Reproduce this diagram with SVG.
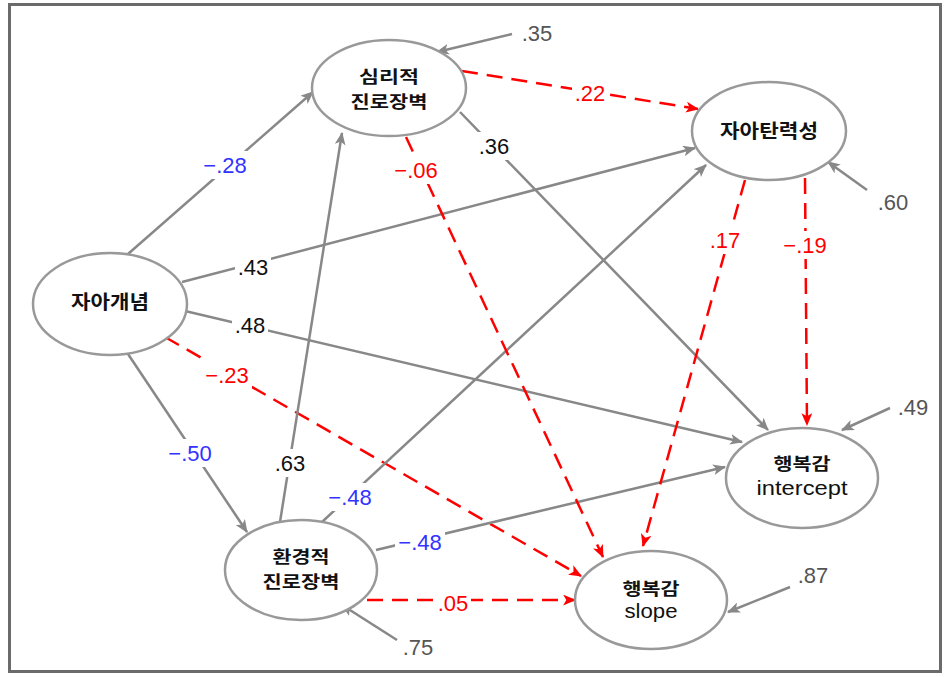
<svg xmlns="http://www.w3.org/2000/svg" width="946" height="677" viewBox="0 0 946 677">
<defs>
<style>
.frame{fill:#fff;stroke:#6b6b6b;stroke-width:3}
.node ellipse{fill:#fff;stroke:#999;stroke-width:2.5}
.nt{font-family:"Noto Sans CJK KR","Liberation Sans",sans-serif;font-size:19px;font-weight:bold;fill:#111;text-anchor:middle}
.n2{font-size:17px}
.et{font-family:"Liberation Sans",Arial,sans-serif;font-size:21px;fill:#111;text-anchor:middle}
.solid{stroke:#888;stroke-width:2.5;fill:none;marker-end:url(#ag)}
.dash{stroke:#f00;stroke-width:2.5;fill:none;stroke-dasharray:16 9;marker-end:url(#ar)}
.lb{font-family:"Liberation Sans",Arial,sans-serif;font-size:22px;text-anchor:middle}
.bg{fill:#fff;stroke:none}
.k{fill:#111}.b{fill:#3333ff}.r{fill:#ff0000}.g{fill:#555}
</style>
<marker id="ag" markerUnits="userSpaceOnUse" viewBox="0 0 12 10" refX="11" refY="5" markerWidth="13" markerHeight="11" orient="auto">
<path d="M0,0 L12,5 L0,10 L3,5 z" fill="#888"/>
</marker>
<marker id="ar" markerUnits="userSpaceOnUse" viewBox="0 0 12 10" refX="11" refY="5" markerWidth="13" markerHeight="11" orient="auto">
<path d="M0,0 L12,5 L0,10 L3,5 z" fill="#f00"/>
</marker>
</defs>
<rect class="frame" x="9.5" y="4.5" width="931" height="667"/>
<g id="connectors">
<line class="solid" x1="128" y1="254" x2="313" y2="92"/>
<line class="solid" x1="182" y1="282" x2="695" y2="148"/>
<line class="solid" x1="185" y1="311" x2="742" y2="442"/>
<line class="solid" x1="126" y1="351" x2="247" y2="532"/>
<line class="dash" x1="165" y1="337" x2="581" y2="576"/>
<line class="solid" x1="280" y1="522" x2="342" y2="133"/>
<line class="solid" x1="322" y1="522" x2="706" y2="165"/>
<line class="solid" x1="376" y1="550" x2="725" y2="467"/>
<line class="dash" x1="367" y1="600" x2="575" y2="600"/>
<line class="dash" x1="462" y1="71" x2="698" y2="109"/>
<line class="solid" x1="460" y1="112" x2="768" y2="430"/>
<line class="dash" x1="406" y1="137" x2="603" y2="557"/>
<line class="dash" x1="745" y1="180" x2="643" y2="546"/>
<line class="dash" x1="805" y1="178" x2="807" y2="425"/>
<line class="solid" x1="512" y1="34" x2="437" y2="52"/>
<line class="solid" x1="867" y1="190" x2="828" y2="162"/>
<line class="solid" x1="890" y1="408" x2="842" y2="430"/>
<line class="solid" x1="790" y1="587" x2="728" y2="612"/>
<line class="solid" x1="397" y1="640" x2="342" y2="605"/>
<rect class="bg" x="200" y="151" width="50" height="28"/>
<rect class="bg" x="235" y="253" width="36" height="28"/>
<rect class="bg" x="232" y="311" width="36" height="28"/>
<rect class="bg" x="202" y="361" width="50" height="28"/>
<rect class="bg" x="165" y="439" width="50" height="28"/>
<rect class="bg" x="272" y="449" width="36" height="28"/>
<rect class="bg" x="325" y="483" width="50" height="28"/>
<rect class="bg" x="395" y="528" width="50" height="28"/>
<rect class="bg" x="435" y="589" width="36" height="28"/>
<rect class="bg" x="572" y="79" width="36" height="28"/>
<rect class="bg" x="476" y="132" width="36" height="28"/>
<rect class="bg" x="391" y="156" width="50" height="28"/>
<rect class="bg" x="708" y="226" width="34" height="28"/>
<rect class="bg" x="780" y="231" width="50" height="28"/>
<text class="lb b" x="225" y="173">−.28</text>
<text class="lb k" x="253" y="275">.43</text>
<text class="lb k" x="250" y="333">.48</text>
<text class="lb r" x="227" y="383">−.23</text>
<text class="lb b" x="190" y="461">−.50</text>
<text class="lb k" x="290" y="471">.63</text>
<text class="lb b" x="350" y="505">−.48</text>
<text class="lb b" x="420" y="550">−.48</text>
<text class="lb r" x="453" y="611">.05</text>
<text class="lb r" x="590" y="101">.22</text>
<text class="lb k" x="494" y="154">.36</text>
<text class="lb r" x="416" y="178">−.06</text>
<text class="lb r" x="725" y="248">.17</text>
<text class="lb r" x="805" y="253">−.19</text>
<text class="lb g" x="537" y="41">.35</text>
<text class="lb g" x="893" y="210">.60</text>
<text class="lb g" x="913" y="415">.49</text>
<text class="lb g" x="813" y="583">.87</text>
<text class="lb g" x="418" y="655">.75</text>
</g>
<g id="n-selfconcept" class="node">
<ellipse cx="110" cy="304" rx="77" ry="51"/>
<text class="nt" x="110" y="309" textLength="78" lengthAdjust="spacingAndGlyphs">자아개념</text>
</g>
<g id="n-psych" class="node">
<ellipse cx="389" cy="88" rx="77" ry="48"/>
<text class="nt n2" x="389" y="83" textLength="60" lengthAdjust="spacingAndGlyphs">심리적</text>
<text class="nt n2" x="389" y="108" textLength="77" lengthAdjust="spacingAndGlyphs">진로장벽</text>
</g>
<g id="n-resilience" class="node">
<ellipse cx="769" cy="131" rx="77" ry="49"/>
<text class="nt" x="769" y="138" textLength="98" lengthAdjust="spacingAndGlyphs">자아탄력성</text>
</g>
<g id="n-env" class="node">
<ellipse cx="301" cy="570" rx="76" ry="50"/>
<text class="nt n2" x="301" y="563" textLength="57" lengthAdjust="spacingAndGlyphs">환경적</text>
<text class="nt n2" x="301" y="588" textLength="77" lengthAdjust="spacingAndGlyphs">진로장벽</text>
</g>
<g id="n-intercept" class="node">
<ellipse cx="802" cy="478" rx="76" ry="50"/>
<text class="nt n2" x="802" y="470" textLength="57" lengthAdjust="spacingAndGlyphs">행복감</text>
<text class="et" x="802" y="495" textLength="91" lengthAdjust="spacingAndGlyphs">intercept</text>
</g>
<g id="n-slope" class="node">
<ellipse cx="651" cy="600" rx="76" ry="49"/>
<text class="nt n2" x="651" y="595" textLength="57" lengthAdjust="spacingAndGlyphs">행복감</text>
<text class="et" x="651" y="618" textLength="53" lengthAdjust="spacingAndGlyphs">slope</text>
</g>
</svg>
